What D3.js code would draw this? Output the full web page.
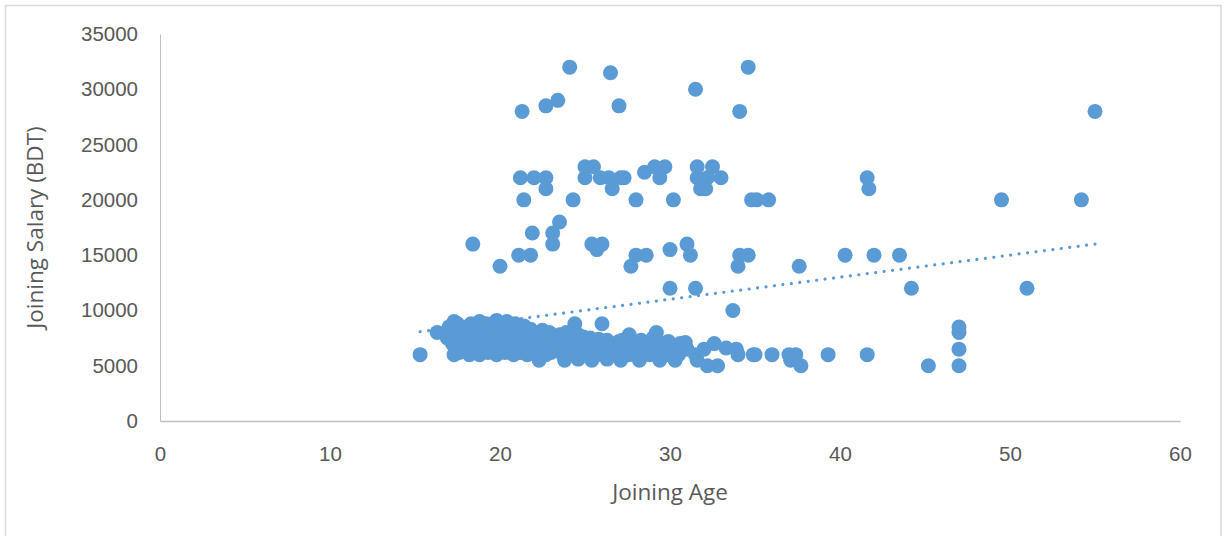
<!DOCTYPE html>
<html>
<head>
<meta charset="utf-8">
<script src="https://cdn.jsdelivr.net/npm/d3@7"></script>
<style>
  html, body { margin: 0; padding: 0; background: #ffffff; }
  svg { display: block; font-family: "Open Sans", "Liberation Sans", sans-serif; }
</style>
</head>
<body>
<svg id="chart" width="1226" height="536"></svg>
<script>
// Employees: joining age (years) vs joining salary (BDT)

// Senior / high-pay hires (25000+)
const highPay = [
  [24.1, 32000], [26.5, 31500], [34.6, 32000], [31.5, 30000],
  [23.4, 29000], [22.7, 28500], [27.0, 28500], [21.3, 28000],
  [34.1, 28000], [55.0, 28000]
];

// Middle band (10000 - 25000)
const midPay = [
  [21.2, 22000], [22.0, 22000], [22.7, 22000], [22.7, 21000], [21.4, 20000],
  [24.3, 20000], [25.0, 23000], [25.5, 23000], [25.0, 22000], [25.9, 22000],
  [26.4, 22000], [26.6, 21000], [27.1, 22000], [27.3, 22000], [28.5, 22500],
  [29.1, 23000], [29.7, 23000], [29.4, 22000], [28.0, 20000], [30.2, 20000],
  [31.6, 23000], [32.5, 23000], [31.6, 22000], [32.2, 22000], [33.0, 22000],
  [31.8, 21000], [32.1, 21000], [34.8, 20000], [35.1, 20000], [35.8, 20000],
  [41.6, 22000], [41.7, 21000], [49.5, 20000], [54.2, 20000],
  [18.4, 16000], [20.0, 14000], [21.1, 15000], [21.8, 15000], [21.9, 17000],
  [23.1, 17000], [23.5, 18000], [23.1, 16000], [25.4, 16000], [26.0, 16000],
  [25.7, 15500], [28.0, 15000], [28.6, 15000], [27.7, 14000], [30.0, 15500],
  [31.0, 16000], [31.2, 15000], [30.0, 12000], [31.5, 12000], [34.1, 15000],
  [34.6, 15000], [34.0, 14000], [37.6, 14000], [40.3, 15000], [42.0, 15000],
  [43.5, 15000], [44.2, 12000], [51.0, 12000], [33.7, 10000]
];

// Entry-level hires (below 10000)
const entryPay = [
  [15.3, 6000], [16.3, 8000], [16.8, 8000], [16.9, 7500],
  [17.3, 9000], [18.8, 9000], [19.8, 9100], [20.4, 9000],
  [17.5, 8800], [18.3, 8800], [19.2, 8800], [20.9, 8800], [21.4, 8600], [24.4, 8800], [26.0, 8800],
  [17.0, 8500], [18.0, 8500], [19.5, 8500], [20.0, 8500], [21.0, 8500], [21.8, 8300], [22.5, 8200],
  [17.4, 8200], [18.2, 8200], [19.1, 8200], [19.9, 8200], [20.8, 8200], [21.7, 8000], [22.9, 8000],
  [17.8, 8000], [18.6, 8000], [19.0, 8000], [20.6, 8000], [21.5, 8000], [22.2, 8000], [23.0, 7800],
  [23.9, 8000], [29.2, 8000], [24.9, 7600], [27.6, 7800], [23.5, 7800], [24.6, 7800], [29.0, 7500],
  [17.6, 7500], [18.4, 7500], [19.3, 7500], [20.2, 7500], [21.2, 7500], [22.0, 7500], [22.8, 7500],
  [23.6, 7500], [24.2, 7500], [25.3, 7500], [26.3, 7300], [25.8, 7400], [27.2, 7300], [28.3, 7300],
  [17.5, 7200], [18.5, 7200], [19.4, 7200], [20.4, 7200], [21.3, 7200], [22.2, 7200], [23.1, 7200],
  [24.0, 7200], [24.9, 7200], [26.1, 7200], [27.0, 7200], [27.9, 7200], [29.2, 7200], [29.9, 7200],
  [17.2, 7000], [18.1, 7000], [19.0, 7000], [19.8, 7000], [20.8, 7000], [21.6, 7000], [22.4, 7000],
  [23.3, 7000], [24.0, 7000], [24.7, 7000], [25.6, 7000], [26.9, 7000], [27.5, 7000], [28.0, 7000],
  [28.6, 7000], [29.6, 7000], [30.0, 7000], [30.6, 7000], [30.9, 7100], [32.6, 7000],
  [17.7, 6800], [18.9, 6800], [19.7, 6800], [20.6, 6800], [21.5, 6800], [22.5, 6800], [23.4, 6800],
  [24.3, 6800], [25.2, 6800], [26.2, 6800], [27.2, 6800], [28.2, 6800], [29.3, 6800], [30.2, 6800],
  [17.8, 6500], [18.6, 6500], [19.4, 6500], [20.2, 6500], [21.0, 6500], [21.9, 6500], [22.6, 6500],
  [23.5, 6500], [24.4, 6500], [25.2, 6500], [26.1, 6500], [26.8, 6300], [27.8, 6500], [28.4, 6500],
  [29.0, 6500], [29.8, 6500], [30.4, 6500], [31.0, 6500], [32.0, 6500], [33.3, 6600], [33.9, 6500],
  [17.6, 6200], [18.5, 6200], [19.3, 6200], [20.3, 6200], [21.2, 6200], [22.1, 6200], [23.0, 6200],
  [24.0, 6200], [24.8, 6200], [25.9, 6200], [26.9, 6200], [27.6, 6000], [28.5, 6200], [29.5, 6200],
  [17.3, 6000], [18.2, 6000], [18.8, 6000], [19.8, 6000], [20.8, 6000], [21.6, 6000], [22.7, 6000],
  [23.7, 6000], [24.2, 6000], [25.0, 6000], [25.7, 6000], [26.5, 6000], [27.2, 6000], [28.8, 6000],
  [29.8, 6000], [30.5, 6000], [31.5, 6000], [34.0, 6000], [34.9, 6000], [35.0, 6000],
  [22.3, 5500], [23.8, 5500], [25.4, 5500], [27.1, 5500], [28.2, 5500], [29.4, 5500], [30.3, 5500],
  [24.6, 5600], [26.3, 5600], [31.6, 5500], [32.2, 5000], [32.8, 5000],
  [36.0, 6000], [37.0, 6000], [37.4, 6000], [37.1, 5500], [37.7, 5000], [39.3, 6000], [41.6, 6000],
  [45.2, 5000], [47.0, 8500], [47.0, 8000], [47.0, 6500], [47.0, 5000]
];

// Linear trend of salary on age
const trendSlope = 199.6;
const trendIntercept = 5021;

const xTicks = [0, 10, 20, 30, 40, 50, 60];
const yTicks = [0, 5000, 10000, 15000, 20000, 25000, 30000, 35000];

const xTitle = "Joining Age";
const yTitle = "Joining Salary (BDT)";

const allPoints = entryPay.concat(midPay, highPay);

const svg = d3.select("#chart");
const margin = { left: 160, right: 46, top: 34, bottom: 115 };
const W = 1226, H = 536;

// Outer chart frame
svg.append("rect")
  .attr("x", 5.5).attr("y", 5.5)
  .attr("width", 1215.5).attr("height", 540)
  .attr("fill", "#ffffff")
  .attr("stroke", "#d9d9d9")
  .attr("stroke-width", 1.5);

const x = d3.scaleLinear().domain([0, 60]).range([margin.left, W - margin.right]);
const y = d3.scaleLinear().domain([0, 35000]).range([H - margin.bottom, margin.top]);

const tickColor = "#595959";

const xAxis = svg.append("g")
  .attr("transform", `translate(0,${y(0)})`)
  .call(d3.axisBottom(x).tickValues(xTicks).tickSize(0).tickPadding(25).tickFormat(d3.format("d")));
xAxis.select(".domain").attr("stroke", "#bfbfbf").attr("stroke-width", 1.5);
xAxis.selectAll("text").attr("fill", tickColor).style("font-size", "20.5px");

const yAxis = svg.append("g")
  .attr("transform", `translate(${x(0)},0)`)
  .call(d3.axisLeft(y).tickValues(yTicks).tickSize(0).tickPadding(22).tickFormat(d3.format("d")));
yAxis.select(".domain").attr("stroke", "#bfbfbf").attr("stroke-width", 1);
yAxis.selectAll("text").attr("fill", tickColor).style("font-size", "20.5px");

// Scatter points
svg.append("g")
  .selectAll("circle")
  .data(allPoints)
  .join("circle")
  .attr("cx", d => x(d[0]))
  .attr("cy", d => y(d[1]))
  .attr("r", 7.5)
  .attr("fill", "#5b9bd5");

// Dotted linear trendline across the observed age range
const ageExtent = d3.extent(allPoints, d => d[0]);
const trendPts = ageExtent.map(a => [a, trendIntercept + trendSlope * a]);
const trendPath = svg.append("path")
  .attr("d", d3.line().x(d => x(d[0])).y(d => y(d[1]))(trendPts))
  .attr("fill", "none")
  .attr("stroke", "#5b9bd5")
  .attr("stroke-width", 3.2)
  .attr("stroke-linecap", "round");
// space the dots evenly so one lands on each end
const trendLen = trendPath.node().getTotalLength();
const gap = trendLen / Math.round(trendLen / 8.5);
trendPath.attr("stroke-dasharray", `0.01 ${gap - 0.01}`);

// Axis titles
svg.append("text")
  .attr("x", (x(0) + x(60)) / 2)
  .attr("y", 500)
  .attr("text-anchor", "middle")
  .attr("fill", tickColor)
  .style("font-size", "22.5px")
  .text(xTitle);

svg.append("text")
  .attr("transform", `translate(43,${(y(0) + y(35000)) / 2}) rotate(-90)`)
  .attr("text-anchor", "middle")
  .attr("fill", tickColor)
  .style("font-size", "22.5px")
  .text(yTitle);
</script>
</body>
</html>
